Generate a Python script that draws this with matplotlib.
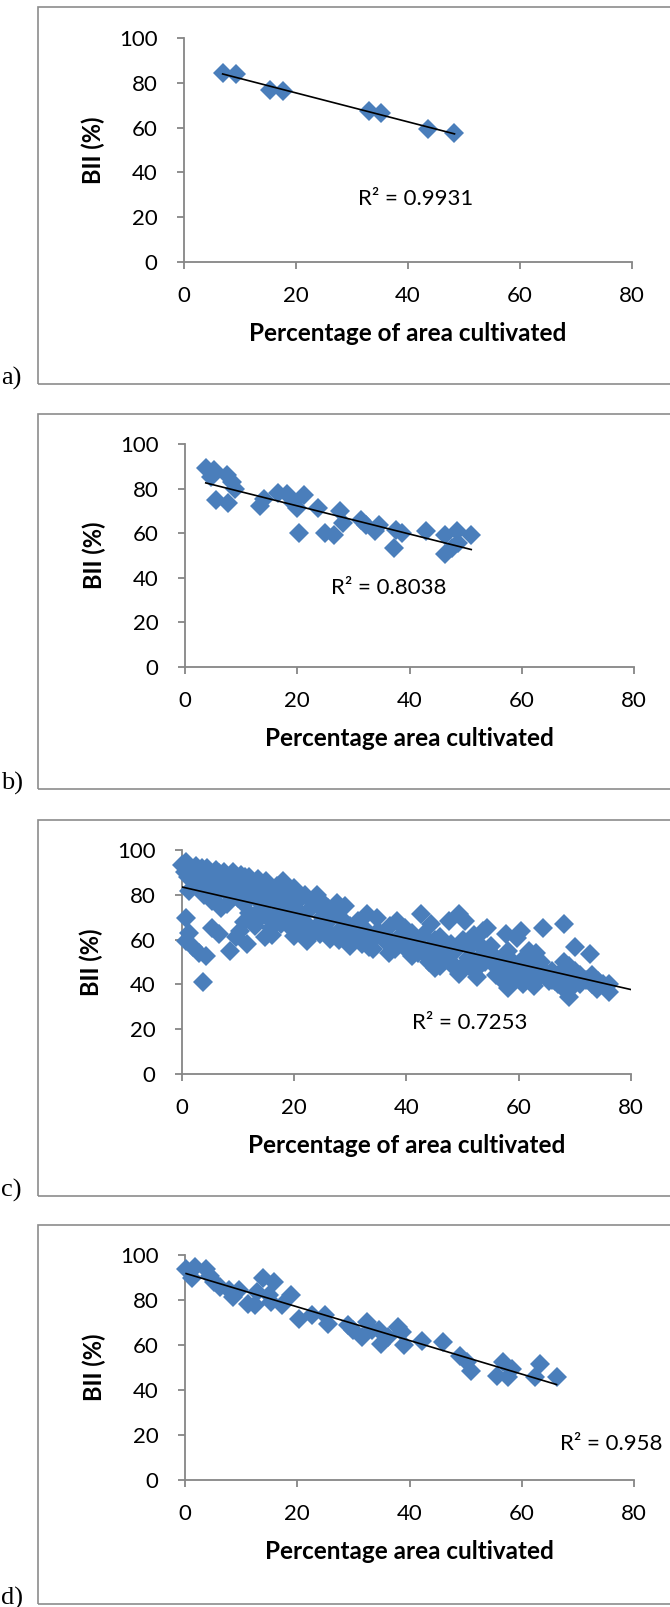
import numpy as np
import matplotlib
matplotlib.use("Agg")
import matplotlib.pyplot as plt
from matplotlib.patches import Rectangle

plt.rcParams['font.family'] = ['Lato', 'DejaVu Sans']

# ---- data ----
a_x = [6.9, 9.2, 15.3, 17.6, 33.1, 35.2, 43.6, 48.3]
a_y = [84.3, 83.8, 77.0, 76.2, 67.2, 66.5, 59.3, 57.8]

b_x = [3.7, 5.1, 4.7, 7.4, 8.4, 8.9, 5.5, 7.6, 13.3, 14.0, 16.6, 18.1, 19.3, 20.0,
       21.2, 20.4, 23.7, 25.0, 26.5, 27.7, 28.1, 31.3, 32.2, 34.5, 33.8, 37.2,
       37.6, 38.7, 42.9, 46.4, 46.4, 47.5, 48.4, 48.7, 51.0]
b_y = [89.3, 88.3, 85.3, 86.0, 83.0, 80.0, 75.0, 73.5, 72.3, 75.4, 78.0, 77.5, 73.5, 71.3,
       77.2, 60.2, 71.3, 60.0, 59.4, 69.8, 64.6, 66.0, 63.9, 63.9, 61.0, 53.5,
       61.6, 60.2, 61.0, 59.4, 50.5, 53.5, 61.0, 55.7, 59.4]

c_x = [0.0, 0.8, 1.2, 2.4, 3.5, 4.3, 1.2, 0.8, 1.2, 0.8, 2.0, 3.1, 4.3, 3.7, 5.4, 6.6,
       8.5, 5.4, 6.9, 6.6, 8.9, 11.2, 9.6, 8.1, 10.0, 13.1, 15.4, 12.3, 14.7, 16.1,
       10.4, 11.5, 9.6, 13.1, 14.7, 15.8, 17.7, 18.0, 19.9, 21.4, 19.2, 20.7, 19.9,
       22.2, 24.1, 25.3, 27.6, 29.1, 24.5, 26.4, 28.4, 29.9, 31.4, 32.9, 34.8, 33.3,
       34.5, 36.8, 38.3, 39.8, 38.7, 41.0, 42.5, 44.4, 43.6, 45.1, 45.9, 47.5, 49.4,
       50.5, 48.6, 49.4, 51.3, 52.1, 52.5, 53.6, 54.4, 54.0, 55.9, 57.7, 58.1, 58.9,
       59.6, 60.4, 60.8, 61.9, 62.7, 63.9, 64.3, 65.4, 66.5, 68.1, 68.1, 68.9, 69.2,
       70.0, 70.4, 72.7, 73.1, 74.2, 76.1,
       2, 3, 4, 5, 6, 7, 8, 10, 11, 11, 12, 12, 13, 14, 14, 15, 16, 16, 17, 17,
       18, 18, 19, 20, 21, 21, 22, 23, 23, 24, 25, 26, 27, 28, 29, 30,
       26, 28, 30, 31, 32, 35, 36, 37, 40, 41, 42, 43, 44, 46, 47, 48, 50, 51,
       52, 53, 55, 56, 57, 58, 59, 60, 61, 62, 63, 64, 66, 67, 69, 71,
       1, 2, 3, 4, 5, 6, 7, 8, 9, 10, 12, 13, 14, 16, 17, 19, 20, 22, 24, 26,
       56, 57, 59, 61, 63, 65, 67, 68, 70, 72, 74, 75,
       42, 44, 46, 48, 50, 52, 54,
       0.5, 1.5, 2.5, 3.5, 4.5, 6, 7.5, 9, 10.5, 12, 13.5, 15, 18,
       58, 60, 62, 64, 66, 68, 70, 71, 73, 76, 55, 57, 53, 47, 45,
       32, 34, 36, 38, 40, 30, 28,
       33, 37, 39, 41, 43, 45, 47, 49, 51, 53, 55, 57, 59, 61, 63]
c_y = [93.2, 94.7, 91.0, 90.3, 91.8, 89.6, 81.7, 69.8, 63.1, 59.4, 56.5, 54.2, 52.7,
       40.9, 65.4, 62.4, 55.0, 77.3, 74.3, 89.6, 88.9, 88.1, 85.8, 81.4, 78.5, 85.8,
       84.4, 79.9, 79.2, 78.5, 63.9, 58.0, 61.0, 71.3, 61.0, 65.4, 66.9, 84.4, 82.9,
       79.2, 74.3, 69.8, 61.7, 59.4, 80.0, 75.8, 76.5, 75.0, 62.4, 60.2, 63.9, 57.2,
       68.4, 71.3, 69.8, 56.5, 61.0, 54.2, 68.4, 65.4, 58.0, 52.7, 71.3, 66.9, 55.0,
       47.5, 61.0, 68.4, 71.3, 68.4, 47.5, 44.6, 56.5, 50.5, 43.1, 63.9, 65.4, 53.5,
       49.0, 62.4, 38.6, 43.1, 60.9, 63.9, 40.1, 55.0, 39.4, 47.5, 65.4, 41.6, 41.6,
       66.9, 49.8, 34.2, 40.1, 56.5, 43.1, 53.5, 40.1, 41.6, 36.4,
       86, 84, 80, 84, 80, 86, 76, 82, 76, 68, 72, 86, 66, 76, 70, 72, 68, 62, 76, 72,
       70, 78, 66, 76, 72, 64, 68, 62, 74, 66, 70, 64, 72, 60, 68, 62,
       68, 70, 66, 61, 64, 64, 60, 66, 60, 63, 58, 62, 52, 56, 52, 58, 60, 52,
       62, 48, 57, 52, 47, 55, 50, 46, 52, 44, 54, 50, 46, 44, 48, 44,
       88, 90, 88, 86, 90, 88, 84, 88, 84, 86, 84, 82, 84, 82, 84, 80, 78, 80, 76, 74,
       44, 42, 44, 42, 46, 44, 40, 38, 40, 42, 38, 40,
       54, 50, 48, 50, 48, 46, 50,
       90, 92, 93, 88, 92, 91, 90, 90, 89, 88, 87, 86, 86,
       46, 44, 48, 44, 42, 44, 46, 40, 44, 40, 50, 52, 52, 54, 52,
       58, 56, 62, 56, 56, 60, 64,
       64, 60, 62, 58, 56, 60, 58, 56, 58, 58, 54, 48, 48, 46, 50]

d_x = [0.2, 1.8, 1.3, 3.8, 4.4, 5.1, 6.3, 7.8, 8.6, 9.7, 11.2, 12.4, 12.8, 13.9, 15.0,
       15.8, 15.4, 17.3, 18.9, 20.4, 22.7, 25.0, 25.4, 29.1, 30.0, 31.6, 32.5, 33.4,
       34.5, 34.9, 36.1, 38.0, 38.7, 39.1, 42.2, 46.0, 49.0, 50.2, 51.0, 55.6, 56.7,
       57.5, 58.2, 62.4, 63.2, 66.2]
d_y = [93.7, 94.5, 89.6, 94.0, 90.6, 88.1, 85.8, 84.4, 81.4, 84.4, 78.4, 77.6, 83.6,
       89.6, 82.1, 88.1, 79.1, 77.6, 82.1, 71.7, 73.2, 73.2, 69.4, 68.7, 66.5, 63.5,
       70.2, 66.5, 66.5, 60.5, 63.5, 68.0, 65.7, 59.8, 62.0, 61.3, 55.3, 52.3, 48.6,
       46.3, 52.3, 45.6, 49.3, 45.6, 51.6, 45.6]

xs = [a_x, b_x, c_x, d_x]
ys = [a_y, b_y, c_y, d_y]
panel_letters = ["a)", "b)", "c)", "d)"]
x_labels = ["Percentage of area cultivated", "Percentage area cultivated",
            "Percentage of area cultivated", "Percentage area cultivated"]
r2_labels = ["R\u00b2 = 0.9931", "R\u00b2 = 0.8038", "R\u00b2 = 0.7253", "R\u00b2 = 0.958"]
r2_pos = [(41.3, 28.0), (36.3, 35.6), (51.3, 22.8), (66.8, 16.0)]
r2_ha = ["center", "center", "center", "left"]
trend_to_end = [False, False, True, False]

W, H = 670, 1607
fig = plt.figure(figsize=(W / 100, H / 100), dpi=100)

# pixel layout of each panel: axes left/right x, axes top/bottom y, box top/bottom y
axes_px = [(184, 632, 38, 262), (185, 634, 444, 667), (182, 631, 850, 1074), (185, 634, 1255, 1480)]
box_px = [(7, 384), (414, 789), (820, 1196), (1225, 1604)]

blue = "#4A7EBB"
grey = "#868686"

for i in range(4):
    l, r, t, b = axes_px[i]
    ax = fig.add_axes([l / W, 1 - b / H, (r - l) / W, (b - t) / H])
    ax.plot(xs[i], ys[i], linestyle="", marker="D", ms=10.5, color=blue, mec=blue,
            mew=0, clip_on=False, zorder=3)
    k, c = np.polyfit(xs[i], ys[i], 1)
    x0 = min(xs[i])
    x1 = 80 if trend_to_end[i] else max(xs[i])
    ax.plot([x0, x1], [k * x0 + c, k * x1 + c], color="black", lw=1.2, zorder=4)
    ax.text(r2_pos[i][0], r2_pos[i][1], r2_labels[i], ha=r2_ha[i], va="center",
            fontsize=16, clip_on=False)

    ax.set_xlim(0, 80)
    ax.set_ylim(0, 100)
    ax.set_xticks([0, 20, 40, 60, 80])
    ax.set_yticks([0, 20, 40, 60, 80, 100])
    for s in ["top", "right"]:
        ax.spines[s].set_visible(False)
    for s in ["left", "bottom"]:
        ax.spines[s].set_color(grey)
        ax.spines[s].set_linewidth(1.3)
    ax.tick_params(axis="x", length=5, width=1.3, color=grey, labelsize=16, pad=12)
    ax.tick_params(axis="y", length=5, width=1.3, color=grey, labelsize=16, pad=14)
    ax.set_xlabel(x_labels[i], fontsize=17.5, fontweight="bold", labelpad=12)
    ax.set_ylabel("BII (%)", fontsize=17, fontweight="bold", labelpad=10)

    bt, bb = box_px[i]
    fig.add_artist(Rectangle((38 / W, 1 - bb / H), 700 / W, (bb - bt) / H,
                             transform=fig.transFigure, fill=False,
                             edgecolor="#8c8c8c", lw=1.2))
    fig.text(1 / W, 1 - (bb - 6) / H, panel_letters[i], ha="left", va="center",
             fontsize=19, family=["Liberation Serif", "DejaVu Serif"])

fig.savefig("out.png", dpi=100)
